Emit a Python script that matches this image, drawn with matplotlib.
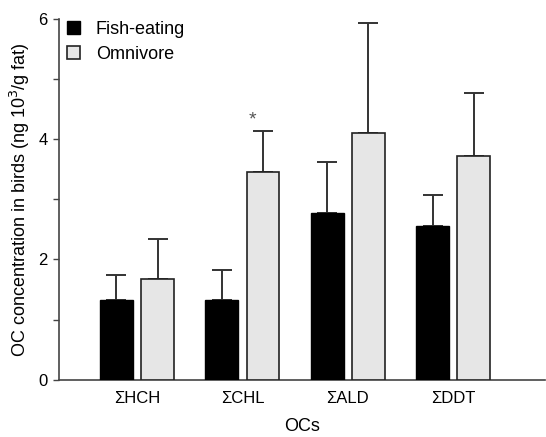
import numpy as np
import matplotlib
matplotlib.use("Agg")
import matplotlib.pyplot as plt
from matplotlib.ticker import MultipleLocator

plt.rcParams['font.family'] = ['Liberation Sans', 'DejaVu Sans']

categories = ["\u03a3HCH", "\u03a3CHL", "\u03a3ALD", "\u03a3DDT"]
fish_mean = [1.32, 1.32, 2.78, 2.55]
fish_sd = [0.42, 0.51, 0.84, 0.52]
omni_mean = [1.68, 3.45, 4.10, 3.72]
omni_sd = [0.66, 0.68, 1.83, 1.05]

x = np.arange(len(categories))
w = 0.31
off = 0.195

fig = plt.figure(figsize=(5.46, 4.37), dpi=100)
ax = fig.add_axes([0.108, 0.131, 0.89, 0.826])

ekw = dict(ecolor="#333333", elinewidth=1.4, capsize=7, capthick=1.4)
ax.bar(x - off, fish_mean, w, color="black", edgecolor="black", linewidth=1.0,
       label="Fish-eating", zorder=3)
ax.errorbar(x - off, fish_mean, yerr=[np.zeros(4), fish_sd], fmt="none", zorder=2, **ekw)
ax.bar(x + off, omni_mean, w, color="#e6e6e6", edgecolor="#222222", linewidth=1.2,
       label="Omnivore", zorder=3)
ax.errorbar(x + off, omni_mean, yerr=[np.zeros(4), omni_sd], fmt="none", zorder=2, **ekw)

# significance marker over the omnivore CHL bar
ax.text(1 + off - 0.1, omni_mean[1] + omni_sd[1] + 0.05, "*", ha="center", va="bottom",
        fontsize=14, color="#555555")

ax.set_xlim(-0.74, 3.87)
ax.set_ylim(0, 6)
ax.yaxis.set_major_locator(MultipleLocator(2))
ax.yaxis.set_minor_locator(MultipleLocator(1))
ax.tick_params(axis="y", which="both", direction="out", length=4, width=1.0,
               color="#444444", labelsize=12, pad=4)
ax.tick_params(axis="x", length=0, labelsize=12, pad=8)
ax.set_xticks(x)
ax.set_xticklabels(categories)

for s in ("top", "right"):
    ax.spines[s].set_visible(False)
for s in ("left", "bottom"):
    ax.spines[s].set_color("#444444")
    ax.spines[s].set_linewidth(1.2)

ax.set_xlabel("OCs", fontsize=13, labelpad=9)
ax.set_ylabel("OC concentration in birds (ng 10$^{3}$/g fat)", fontsize=13, labelpad=5)

ax.legend(loc="upper left", bbox_to_anchor=(-0.017, 1.04), frameon=False, fontsize=13,
          handlelength=0.7, handleheight=0.7, handletextpad=0.9, labelspacing=0.45)

fig.savefig("out.png", dpi=100)
